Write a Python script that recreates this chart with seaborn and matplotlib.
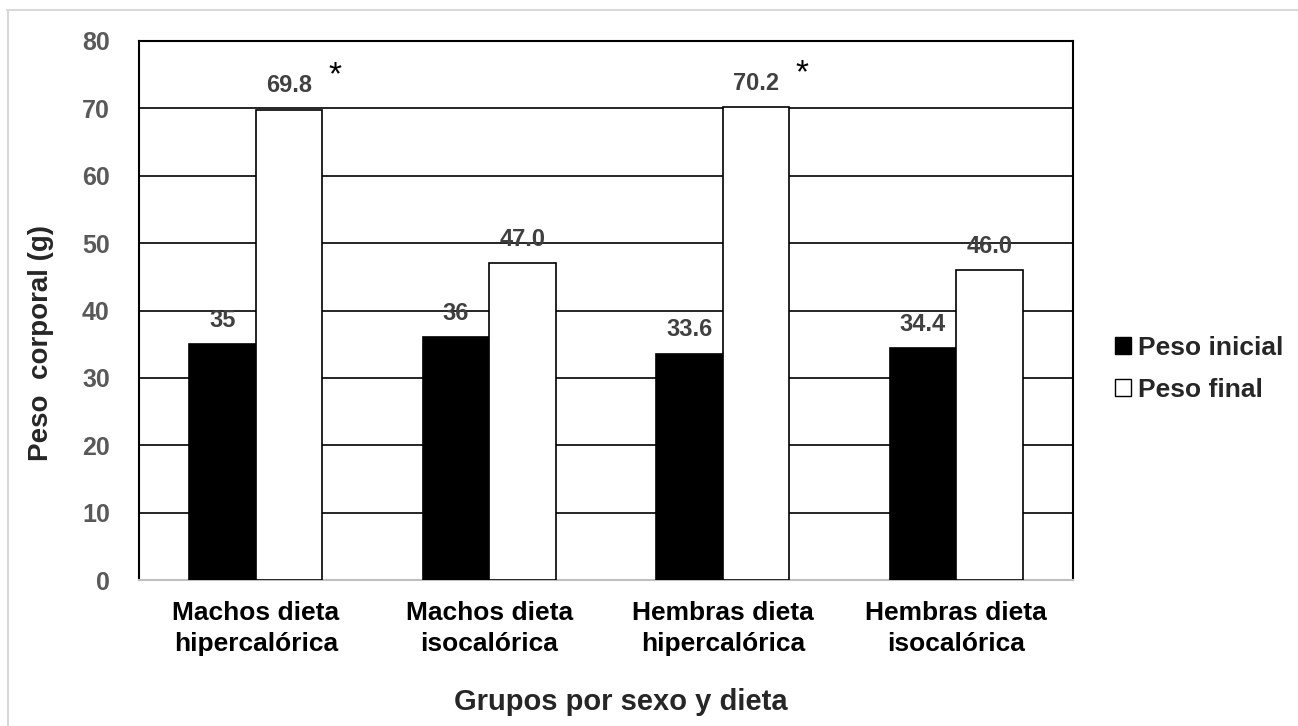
import matplotlib
matplotlib.use("Agg")
import matplotlib.pyplot as plt
from matplotlib.patches import Patch
from matplotlib.lines import Line2D
import seaborn as sns
import pandas as pd

groups = ["Machos dieta\nhipercalórica", "Machos dieta\nisocalórica",
          "Hembras dieta\nhipercalórica", "Hembras dieta\nisocalórica"]
series = ["Peso inicial", "Peso final"]
peso_inicial = [35.0, 36.0, 33.6, 34.4]
peso_final = [69.8, 47.0, 70.2, 46.0]
labels_inicial = ["35", "36", "33.6", "34.4"]
labels_final = ["69.8", "47.0", "70.2", "46.0"]
significant = [True, False, True, False]
y_ticks = [0, 10, 20, 30, 40, 50, 60, 70, 80]

sns.set_theme(style="white")
plt.rcParams["font.family"] = ["Liberation Sans", "DejaVu Sans"]

df = pd.DataFrame({
    "grupo": groups * 2,
    "serie": [series[0]] * 4 + [series[1]] * 4,
    "peso": peso_inicial + peso_final,
})

W, H = 1298, 726
fig = plt.figure(figsize=(W / 100, H / 100), dpi=100)
ax = fig.add_axes([139 / W, 1 - 580 / H, (1073 - 139) / W, (580 - 41) / H])

sns.barplot(data=df, x="grupo", y="peso", hue="serie", order=groups, hue_order=series,
            palette=["black", "white"], edgecolor="black", linewidth=1.2,
            width=0.57, gap=0, errorbar=None, legend=False, ax=ax, zorder=3)

ax.set_ylim(0, 80)
ax.set_xlim(-0.5, 3.5)
ax.set_yticks(y_ticks)
ax.yaxis.grid(True, color="black", linewidth=1.2, zorder=0)
ax.set_axisbelow(True)
for s in ["top", "left", "right"]:
    ax.spines[s].set_color("black")
    ax.spines[s].set_linewidth(1.5)
    ax.spines[s].set_visible(True)
ax.spines["bottom"].set_color("#bfbfbf")
ax.spines["bottom"].set_linewidth(1.5)
ax.tick_params(axis="y", length=0, pad=21, labelsize=18, labelcolor="#595959")
ax.tick_params(axis="x", length=0, pad=15, labelsize=19, labelcolor="black")
for t in ax.get_yticklabels():
    t.set_fontweight("bold")
for t in ax.get_xticklabels():
    t.set_fontweight("bold")
    t.set_linespacing(1.4)

ax.set_xlabel("Grupos por sexo y dieta", fontsize=21, fontweight="bold")
ax.set_ylabel("Peso  corporal (g)", fontsize=20, fontweight="bold")
ax.xaxis.set_label_coords((621 - 139) / 934, -(702 - 580) / 539)
ax.xaxis.label.set_va("center")
ax.yaxis.set_label_coords((41 - 139) / 934, (580 - 343) / 539)
ax.yaxis.label.set_va("center")

# value labels above the bars
containers = ax.containers
for cont, labs in zip(containers, [labels_inicial, labels_final]):
    for bar, lab in zip(cont, labs):
        x = bar.get_x() + bar.get_width() / 2
        h = bar.get_height()
        ax.annotate(lab, (x, h), xytext=(0, 9), textcoords="offset points",
                    ha="center", va="bottom", fontsize=17, fontweight="bold",
                    color="#404040", zorder=5)

# significance marks
for bar, sig in zip(containers[1], significant):
    if sig:
        x = bar.get_x() + bar.get_width() / 2
        ax.annotate("*", (x, bar.get_height()), xytext=(33, 13), textcoords="offset points",
                    ha="center", va="bottom", fontsize=24, color="black", zorder=5)

handles = [Patch(facecolor="black", edgecolor="black", label=series[0]),
           Patch(facecolor="white", edgecolor="black", label=series[1])]
leg = fig.legend(handles=handles, loc="center left", bbox_to_anchor=(1091 / W, 1 - 369 / H),
                 frameon=False, handlelength=0.6, handleheight=0.6, handletextpad=0.3,
                 labelspacing=0.68, prop={"size": 19, "weight": "bold"})

# light outer frame
fig.add_artist(Line2D([7 / W, 1], [1 - 9.5 / H] * 2, color="#d9d9d9", linewidth=1.5))
fig.add_artist(Line2D([7.5 / W] * 2, [0, 1 - 9.5 / H], color="#d9d9d9", linewidth=1.5))

fig.savefig("out.png", dpi=100, facecolor="white")
